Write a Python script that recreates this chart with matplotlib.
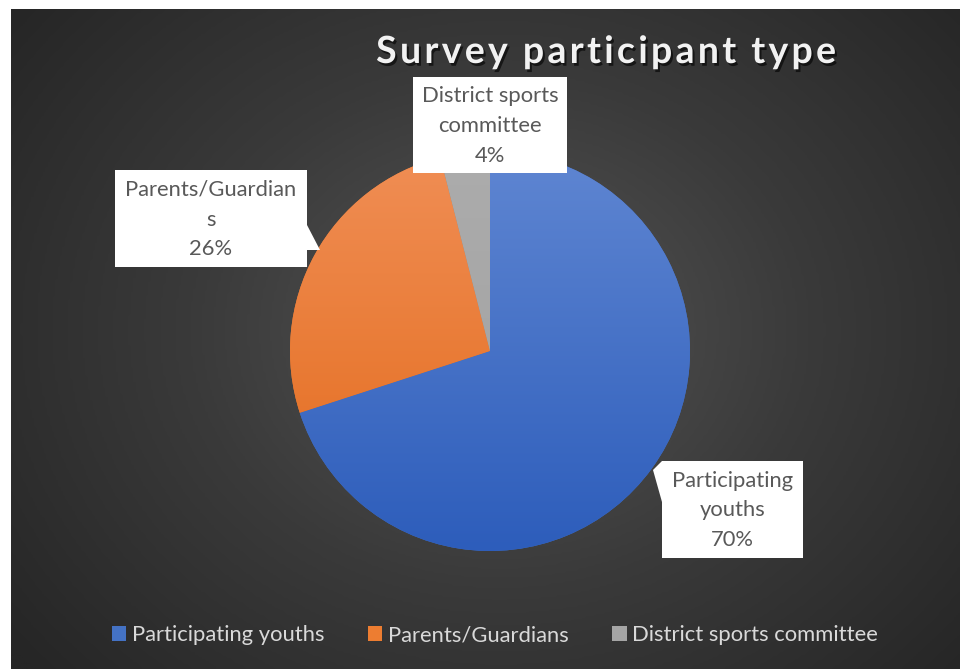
import numpy as np
import matplotlib
matplotlib.use("Agg")
import matplotlib.pyplot as plt
from matplotlib.colors import LinearSegmentedColormap
from matplotlib.patches import Rectangle, Polygon
import matplotlib.patheffects as pe

# survey breakdown
categories = ["Participating youths", "Parents/Guardians", "District sports committee"]
shares = [70, 26, 4]
box_labels = ["Participating\nyouths", "Parents/Guardian\ns", "District sports\ncommittee"]
title = "Survey participant type"

colors = ["#4472c4", "#ed7d31", "#a5a5a5"]
grad = [("#2d5dbb", "#5f86d2"), ("#e36a1a", "#f08e55"), ("#a0a0a0", "#acacac")]

W, H = 960, 669
fig = plt.figure(figsize=(W / 100, H / 100), dpi=100, facecolor="white")
ax = fig.add_axes([0, 0, 1, 1])
ax.set_xlim(0, W)
ax.set_ylim(0, H)
ax.axis("off")

def Y(y):
    # pixel rows counted from the top
    return H - y

# dark radial backdrop
x0, x1, yt, yb = 11, W, 9, H
gx, gy = np.meshgrid(np.linspace(x0, x1, 400), np.linspace(yt, yb, 300))
d = np.sqrt((gx - 500) ** 2 + ((gy - 330) * 1.2) ** 2) / 620
d = np.clip(d, 0, 1)
bg = LinearSegmentedColormap.from_list("bg", ["#555555", "#3a3a3a", "#262626"])
ax.imshow(d, extent=(x0, x1, Y(yb), Y(yt)), origin="upper", cmap=bg,
          vmin=0, vmax=1, aspect="auto", zorder=0, interpolation="bilinear")

# pie
cx, cy, r = 490, 351, 200
wedges, _ = ax.pie(shares, colors=colors, startangle=90, counterclock=False,
                   center=(cx, Y(cy)), radius=r, frame=False,
                   wedgeprops=dict(linewidth=0))
vert = np.linspace(0, 1, 256).reshape(-1, 1)
for w, (lo, hi) in zip(wedges, grad):
    w.set_zorder(2)
    cm = LinearSegmentedColormap.from_list("g", [lo, hi])
    im = ax.imshow(vert, extent=(cx - r, cx + r, Y(cy + r), Y(cy - r)),
                   origin="lower", cmap=cm, aspect="auto", zorder=3)
    im.set_clip_path(w)
ax.set_xlim(0, W)
ax.set_ylim(0, H)
ax.set_aspect("auto")

# callout boxes: (left, top, right, bottom), pointer polygon
boxes = [
    ((662, 461, 803, 558), [(662, 461), (653, 470), (662, 502)]),
    ((115, 170, 307, 267), [(307, 225), (320, 250), (307, 250)]),
    ((413, 77, 567, 173), None),
]
for (l, t, rr, b), ptr, lab, s in zip([bx[0] for bx in boxes], [bx[1] for bx in boxes],
                                      box_labels, shares):
    ax.add_patch(Rectangle((l, Y(b)), rr - l, b - t, facecolor="white",
                           edgecolor="none", zorder=5))
    if ptr:
        ax.add_patch(Polygon([(px, Y(py)) for px, py in ptr], closed=True,
                             facecolor="white", edgecolor="none", zorder=5))
    ax.text((l + rr) / 2, Y((t + b) / 2 + 1), f"{lab}\n{s}%", ha="center", va="center",
            fontsize=15.8, color="#595959", family="Lato", linespacing=1.6, zorder=6)

# title with letter spacing
renderer = fig.canvas.get_renderer()
tkw = dict(fontsize=27, fontweight="bold", family="Lato", color="#f2f2f2")
spacing = 3.3
widths = []
for ch in title:
    t = ax.text(0, 0, ch if ch != " " else "a", **tkw)
    wpx = t.get_window_extent(renderer).width
    if ch == " ":
        wpx *= 0.45
    widths.append(wpx)
    t.remove()
total = sum(widths) + spacing * (len(title) - 1)
xpos = 606 - total / 2
shadow = [pe.withSimplePatchShadow(offset=(1.5, -2), shadow_rgbFace="black", alpha=0.6)]
for ch, wpx in zip(title, widths):
    if ch != " ":
        ax.text(xpos, Y(52), ch, va="center", ha="left", zorder=7,
                path_effects=shadow, **tkw)
    xpos += wpx + spacing

# legend
handles = [Rectangle((0, 0), 1, 1, facecolor=c, edgecolor="none") for c in colors]
leg = ax.legend(handles, categories, loc="center", bbox_to_anchor=(495 / W, 1 - 635 / H),
                ncol=3, frameon=False, handlelength=0.65, handleheight=0.65,
                handletextpad=0.25, columnspacing=2.0,
                prop=dict(family="Lato", size=15.8))
for txt in leg.get_texts():
    txt.set_color("#d9d9d9")

fig.savefig("out.png", dpi=100, facecolor="white")
